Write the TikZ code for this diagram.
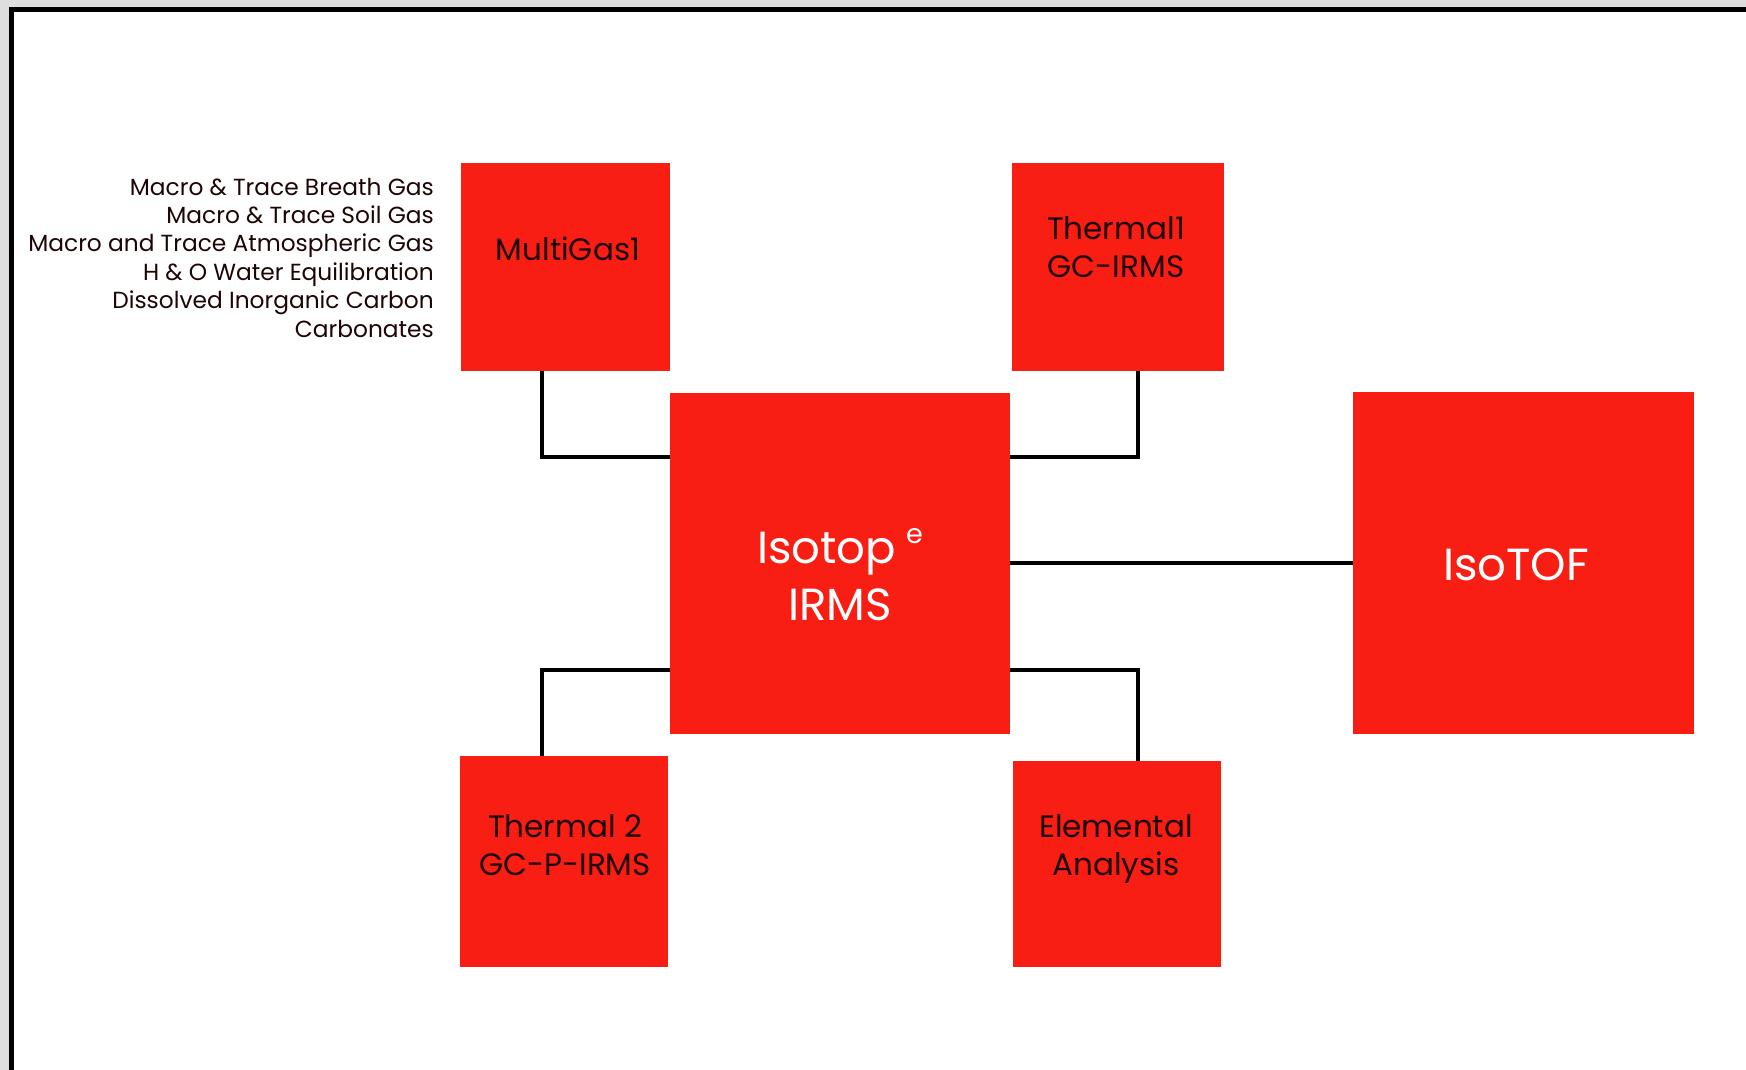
\documentclass[tikz,border=0pt]{standalone}
\usepackage{fontspec}
\setmainfont{Poppins}
\definecolor{boxred}{RGB}{249,30,20}
\definecolor{outgray}{RGB}{222,222,222}
\definecolor{darktext}{RGB}{30,5,5}
\begin{document}
\begin{tikzpicture}[x=1pt,y=-1pt,
  redbox/.style={fill=boxred, draw=none, inner sep=0pt, rectangle},
  conn/.style={line width=4pt, black},
  smalllbl/.style={font=\fontsize{31}{38}\selectfont, text=darktext, align=center, inner sep=0pt, anchor=base},
  biglbl/.style={font=\fontsize{45}{57}\selectfont, text=white, align=center, inner sep=0pt, anchor=base},
  sidetext/.style={font=\fontsize{23.3}{28.4}\selectfont, text=darktext, align=right, inner sep=0pt, anchor=base east}]
\useasboundingbox (0,0) rectangle (1746,1070);
% page frame
\fill[outgray] (0,0) rectangle (1746,1070);
\fill[white] (11,10) rectangle (1746,1070);
\draw[line width=4.5pt] (11.5,1070) -- (11.5,9.7) -- (1746,9.7);
% boxes
\node[redbox, minimum width=209pt, minimum height=208pt] (mg) at (565.5,267) {};
\node[redbox, minimum width=212pt, minimum height=208pt] (th1) at (1118,267) {};
\node[redbox, minimum width=340pt, minimum height=341pt] (iso) at (840,563.5) {};
\node[redbox, minimum width=341pt, minimum height=342pt] (tof) at (1523.5,563) {};
\node[redbox, minimum width=208pt, minimum height=211pt] (th2) at (564,861.5) {};
\node[redbox, minimum width=208pt, minimum height=206pt] (ea) at (1117,864) {};
% connector bends
\coordinate (lt) at (542,457);
\coordinate (rt) at (1138,457);
\coordinate (lb) at (542,670);
\coordinate (rb) at (1138,670);
\draw[conn] (mg.south -| lt) -- (lt) -- (iso.west |- lt);
\draw[conn] (th1.south -| rt) -- (rt) -- (iso.east |- rt);
\draw[conn] (th2.north -| lb) -- (lb) -- (iso.west |- lb);
\draw[conn] (ea.north -| rb) -- (rb) -- (iso.east |- rb);
\draw[conn] (iso.east |- 0,563) -- (tof.west |- 0,563);
% labels (anchor base = baseline of last line)
\node[smalllbl] (mgl) at (568,260) {MultiGas1};
\node[smalllbl] (th1l) at (1116,277) {Thermal1\\GC-IRMS};
\node[smalllbl] (th2l) at (565,875) {Thermal 2\\GC-P-IRMS};
\node[smalllbl] (eal) at (1116,875) {Elemental\\Analysis};
\node[biglbl] (isol) at (840,620) {Isotop\hspace{10pt}\raisebox{20pt}{\fontsize{27}{27}\selectfont e}\\IRMS};
\node[biglbl] (tofl) at (1516,580) {IsoTOF};
\node[sidetext] (side) at (434,337) {Macro \& Trace Breath Gas\\Macro \& Trace Soil Gas\\Macro and Trace Atmospheric Gas\\H \& O Water Equilibration\\Dissolved Inorganic Carbon\\Carbonates};
\end{tikzpicture}
\end{document}
